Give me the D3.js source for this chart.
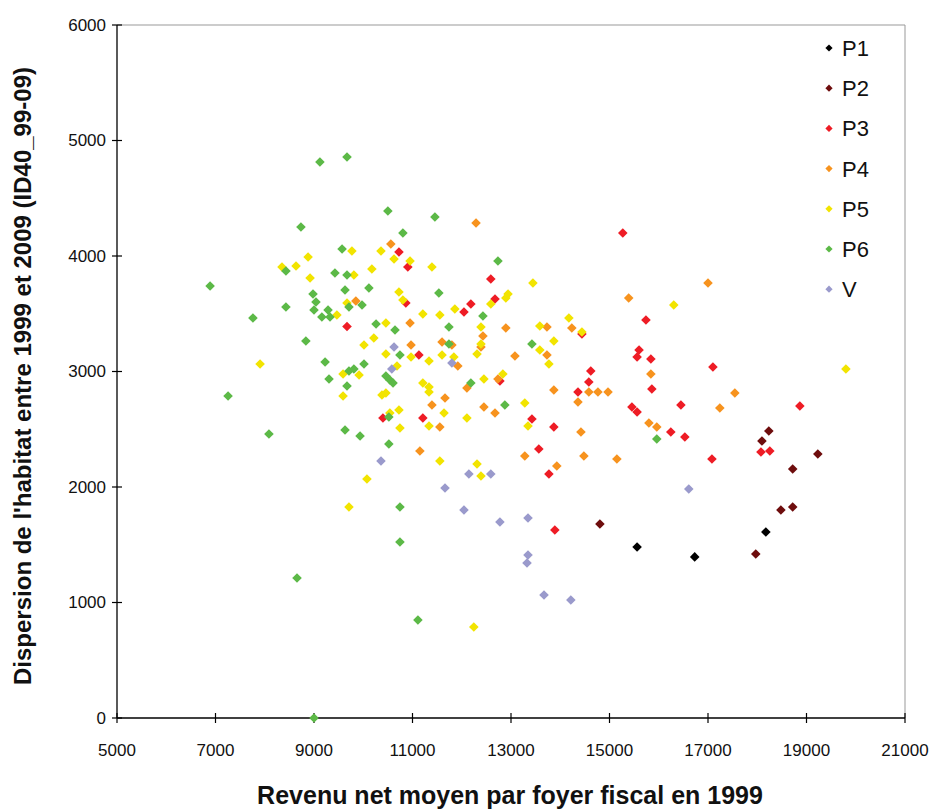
<!DOCTYPE html>
<html>
<head>
<meta charset="utf-8">
<script src="https://d3js.org/d3.v7.min.js"></script>
<style>
body { margin: 0; background: #fff; }
svg { font-family: "Liberation Sans", Arial, sans-serif; }
.tick-label { font-size: 17px; fill: #111; }
.axis-title { font-size: 25px; font-weight: bold; fill: #111; }
.legend text { font-size: 22px; fill: #111; }
</style>
</head>
<body>
<svg id="chart" width="936" height="809"></svg>
<script>

// series: [revenu, dispersion]
var p1 = [[15560,1480],[16730,1395],[18175,1610]];

var p2 = [[14805,1680],[18235,2485],[18095,2398],[19230,2286],[18720,2156],[18480,1801],
    [18720,1827],[17970,1420]];

var p3 = [[15270,4199],[15740,3446],[15600,3186],[15560,3126],[15840,3108],[17100,3039],
    [15860,2848],[15455,2693],[15560,2649],[16450,2710],[18865,2701],[16245,2476],[16530,2433],
    [17080,2242],[18075,2303],[18255,2312],[14620,3004],[14580,2909],[14360,2823],[14440,3325],
    [13870,2519],[13425,2589],[13565,2329],[13770,2113],[13890,1628],[12775,2918],[12675,3628],
    [12590,3801],[12185,3584],[12045,3515],[11210,2597],[11130,3143],[10865,3593],[10905,3905],
    [10725,4035],[9670,3390],[10400,2597]];

var p4 = [[15390,3636],[17000,3766],[15840,2978],[17545,2814],[17240,2684],[15800,2554],
    [15960,2519],[15150,2242],[12290,4286],[10560,4104],[9850,3610],[10950,3420],[12895,3377],
    [13730,3385],[14235,3377],[10970,3229],[11600,3255],[11800,3229],[12430,3307],[12390,3212],
    [13730,3143],[11920,3048],[13080,3134],[14580,2822],[14765,2822],[14970,2822],[14360,2736],
    [13870,2840],[12735,2935],[12105,2857],[11660,2771],[11395,2710],[12450,2693],[12675,2641],
    [11555,2519],[14420,2476],[14480,2268],[13280,2268],[11150,2312],[13930,2182]];

var p5 = [[19800,3022],[16305,3576],[9770,4043],[10360,4043],[10625,3974],[8880,3991],
    [8350,3905],[8635,3913],[8920,3810],[9810,3836],[10175,3887],[10725,3688],[10805,3619],
    [9465,3489],[9670,3593],[10460,3420],[10950,3957],[11395,3905],[13445,3766],[12940,3671],
    [12895,3636],[12590,3584],[11860,3541],[11210,3498],[11555,3489],[14175,3463],[12390,3385],
    [13585,3394],[14440,3342],[13870,3264],[13585,3186],[13770,3065],[10970,3126],[11335,3091],
    [11600,3143],[11840,3126],[12310,3152],[12390,3238],[12835,2978],[12450,2935],[11210,2900],
    [11335,2866],[11335,2822],[11640,2641],[10725,2667],[13280,2727],[11335,2528],[12105,2597],
    [10745,2511],[13345,2528],[11555,2225],[12310,2199],[12390,2095],[10015,3229],[10215,3290],
    [10460,3152],[7905,3065],[9590,2978],[9915,2970],[10685,3048],[9590,2788],[10380,2797],
    [10460,2814],[10540,2641],[10075,2069],[9710,1827],[12245,788]];

var p6 = [[9120,4814],[9670,4857],[10500,4390],[8735,4251],[9570,4061],[10805,4199],
    [11455,4338],[12735,3957],[11535,3680],[12430,3481],[11740,3385],[8430,3870],[9425,3853],
    [9670,3836],[6890,3740],[9630,3706],[10115,3723],[8980,3671],[9040,3602],[9000,3532],
    [9285,3532],[9160,3472],[9325,3472],[9710,3558],[9975,3576],[8430,3558],[7760,3463],
    [10260,3411],[10645,3359],[8835,3264],[10745,3143],[9225,3082],[10015,3065],[9710,3004],
    [9810,3022],[9305,2935],[10460,2961],[10540,2926],[10605,2900],[9670,2874],[7255,2788],
    [10520,2606],[9630,2494],[9935,2442],[8085,2459],[10520,2372],[10745,1827],[10745,1524],
    [8655,1212],[9000,0],[11110,848],[11740,3238],[13425,3238],[12185,2900],[12875,2710],
    [15960,2416]];

var pv = [[10625,3212],[10580,3022],[11800,3074],[10360,2225],[12145,2113],[12590,2113],
    [11660,1991],[12045,1801],[12775,1697],[13345,1732],[13345,1411],[13325,1342],[13670,1065],
    [14215,1022],[16610,1983]];

var seriesNames = ["P1", "P2", "P3", "P4", "P5", "P6", "V"];
var seriesData = [p1, p2, p3, p4, p5, p6, pv];
var colors = ["#000000", "#6e0d0d", "#ee1c25", "#f7931e", "#f2e400", "#5cb947", "#9a9acc"];

var xTicks = [5000, 7000, 9000, 11000, 13000, 15000, 17000, 19000, 21000];
var yTicks = [0, 1000, 2000, 3000, 4000, 5000, 6000];

var svg = d3.select("#chart");

var plotL = 117, plotR = 905, plotT = 25, plotB = 718;

var x = d3.scaleLinear().domain([5000, 21000]).range([plotL, plotR]);
var y = d3.scaleLinear().domain([0, 6000]).range([plotB, plotT]);

// frame: grey top/right
svg.append("path")
    .attr("d", "M" + plotL + "," + plotT + "H" + plotR + "V" + plotB)
    .attr("fill", "none")
    .attr("stroke", "#999")
    .attr("stroke-width", 1);

// axes with crossing ticks
var xAxis = svg.append("g").attr("transform", "translate(0," + plotB + ")");
xAxis.append("line")
    .attr("x1", plotL).attr("x2", plotR)
    .attr("stroke", "#000").attr("stroke-width", 1.3);
xAxis.selectAll(".tk").data(xTicks).enter().append("line")
    .attr("x1", function(d) { return x(d); })
    .attr("x2", function(d) { return x(d); })
    .attr("y1", -5).attr("y2", 5)
    .attr("stroke", "#000").attr("stroke-width", 1.2);
xAxis.selectAll(".tick-label").data(xTicks).enter().append("text")
    .attr("class", "tick-label")
    .attr("x", function(d) { return x(d); })
    .attr("y", 38)
    .attr("text-anchor", "middle")
    .text(function(d) { return d; });

var yAxis = svg.append("g").attr("transform", "translate(" + plotL + ",0)");
yAxis.append("line")
    .attr("y1", plotT).attr("y2", plotB)
    .attr("stroke", "#000").attr("stroke-width", 1.3);
yAxis.selectAll(".tk").data(yTicks).enter().append("line")
    .attr("y1", function(d) { return y(d); })
    .attr("y2", function(d) { return y(d); })
    .attr("x1", -5).attr("x2", 5)
    .attr("stroke", "#000").attr("stroke-width", 1.2);
yAxis.selectAll(".tick-label").data(yTicks).enter().append("text")
    .attr("class", "tick-label")
    .attr("x", -11)
    .attr("y", function(d) { return y(d); })
    .attr("dy", "0.35em")
    .attr("text-anchor", "end")
    .text(function(d) { return d; });

// titles
svg.append("text")
    .attr("class", "axis-title")
    .attr("x", 510).attr("y", 804)
    .attr("text-anchor", "middle")
    .text("Revenu net moyen par foyer fiscal en 1999");

svg.append("text")
    .attr("class", "axis-title")
    .attr("transform", "translate(31,376) rotate(-90)")
    .attr("text-anchor", "middle")
    .style("font-size", "24px")
    .text("Dispersion de l'habitat entre 1999 et 2009 (ID40_99-09)");

// points
var marker = d3.symbol().type(d3.symbolSquare).size(46);

seriesData.forEach(function(data, i) {
    svg.append("g")
        .selectAll("path")
        .data(data)
        .enter().append("path")
        .attr("d", marker)
        .attr("fill", colors[i])
        .attr("transform", function(d) {
            return "translate(" + x(d[0]) + "," + y(d[1]) + ") rotate(45)";
        });
});

// legend
var legend = svg.append("g").attr("class", "legend");
var item = legend.selectAll("g").data(seriesNames).enter().append("g")
    .attr("transform", function(d, i) { return "translate(829," + (48 + i * 40.2) + ")"; });
item.append("path")
    .attr("d", d3.symbol().type(d3.symbolSquare).size(26))
    .attr("transform", "rotate(45)")
    .attr("fill", function(d, i) { return colors[i]; });
item.append("text")
    .attr("x", 13)
    .attr("dy", "0.36em")
    .text(function(d) { return d; });

</script>
</body>
</html>
